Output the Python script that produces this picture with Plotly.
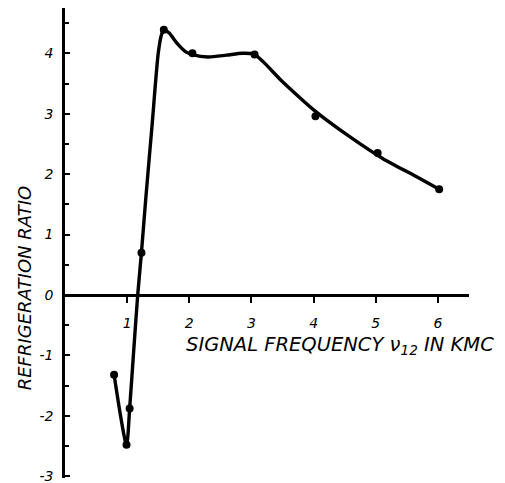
import plotly.graph_objects as go

# measured data points
point_x = [0.79, 0.99, 1.04, 1.23, 1.59, 2.05, 3.05, 4.03, 5.03, 6.02]
point_y = [-1.32, -2.48, -1.88, 0.70, 4.39, 4.00, 3.98, 2.96, 2.35, 1.75]

# hand-drawn smooth curve, read along its path
curve_x = [0.79, 0.99, 1.04, 1.10, 1.17, 1.23, 1.30, 1.40, 1.50, 1.55, 1.59, 1.68, 1.80,
           1.95, 2.05, 2.30, 2.60, 2.85, 3.05, 3.50, 4.04, 4.58, 5.11, 5.65, 6.02]
curve_y = [-1.32, -2.48, -1.88, -1.00, 0.00, 0.70, 1.60, 2.80, 4.00, 4.30, 4.39, 4.33, 4.17,
           4.02, 3.98, 3.94, 3.97, 4.00, 3.98, 3.53, 3.03, 2.62, 2.26, 1.96, 1.75]

x_ticks = [1, 2, 3, 4, 5, 6]
x_tick_text = ["1", "2", "3", "4", "5", "6"]
y_ticks = [-3, -2, -1, 0, 1, 2, 3, 4]
y_tick_text = ["-3", "-2", "-1", "0", "1", "2", "3", "4"]

x_title = "SIGNAL FREQUENCY <i>ν</i><sub>12</sub> IN KMC"
y_title = "REFRIGERATION RATIO"

FONT = "DejaVu Sans"

fig = go.Figure()
fig.add_trace(go.Scatter(x=curve_x, y=curve_y, mode="lines",
                         line=dict(color="black", width=3.4, shape="spline", smoothing=0.7),
                         hoverinfo="skip"))
fig.add_trace(go.Scatter(x=point_x, y=point_y, mode="markers",
                         marker=dict(color="black", size=8)))

y_min, y_max = -3.03, 4.75
fig.update_layout(
    width=505, height=483,
    margin=dict(l=65, r=36, t=8, b=5, autoexpand=False),
    paper_bgcolor="white", plot_bgcolor="white",
    showlegend=False,
    font=dict(family=FONT, color="black", size=13, style="italic"),
    xaxis=dict(range=[0, 6.5], showgrid=False, zeroline=False, automargin=False,
               showline=True, linecolor="black", linewidth=2.5,
               anchor="free", position=(0 - y_min) / (y_max - y_min),
               tickmode="array", tickvals=x_ticks, ticktext=x_tick_text,
               ticks="outside", ticklen=6, tickwidth=1.5, tickcolor="black",
               ticklabelstandoff=8,
               tickfont=dict(family=FONT, size=14, color="black", style="italic")),
    yaxis=dict(range=[y_min, y_max], showgrid=False, zeroline=False, automargin=False,
               showline=True, linecolor="black", linewidth=2.5,
               tickmode="array", tickvals=y_ticks, ticktext=y_tick_text,
               ticks="inside", ticklen=5, tickwidth=2, tickcolor="black",
               minor=dict(dtick=0.5, ticks="inside", ticklen=4, tickwidth=1.5, tickcolor="black"),
               ticklabelstandoff=6, ticklabeloverflow="allow",
               tickfont=dict(family=FONT, size=14, color="black", style="italic")),
)

fig.add_annotation(text=x_title, xref="x", yref="y", x=1.92, y=-0.83,
                   xanchor="left", yanchor="middle", showarrow=False,
                   font=dict(family=FONT, size=19.5, color="black", style="italic"))
fig.add_annotation(text=y_title, xref="paper", yref="y", x=-0.10, y=0.12,
                   xanchor="center", yanchor="middle", textangle=-90, showarrow=False,
                   font=dict(family=FONT, size=18, color="black", style="italic"))

fig.write_html("out.html", config={"displayModeBar": False},
               post_script="document.body.style.margin='0';document.body.style.padding='0';")
